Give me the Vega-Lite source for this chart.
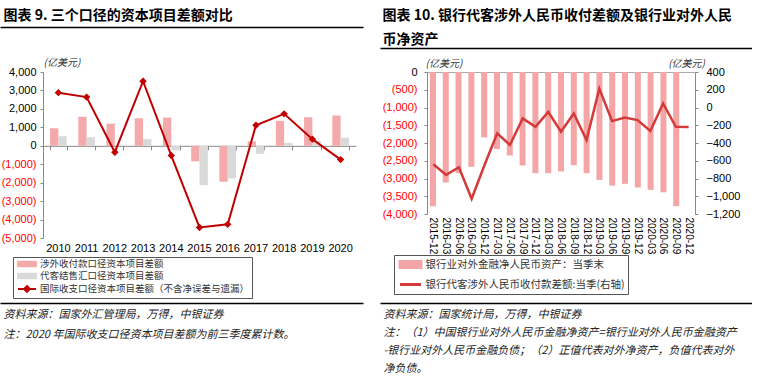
{
  "$schema": "https://vega.github.io/schema/vega-lite/v6.json",
  "background": "white",
  "padding": {"left": 0, "top": 8, "right": 0, "bottom": 0},
  "config": {
    "font": "Liberation Sans",
    "view": {"stroke": null},
    "axis": {"labelFont": "Liberation Sans", "labelFontSize": 11, "labelColor": "#000", "grid": false, "domainColor": "#888", "tickColor": "#888", "labelOverlap": false, "labelFlush": false}
  },
  "spacing": 17,
  "resolve": {"scale": {"x": "independent", "y": "independent", "color": "independent"}, "legend": {"color": "independent"}},
  "datasets": {
    "leftBars": [
      {"year": "2010", "series": "涉外收付款口径资本项目差额", "value": 950},
      {"year": "2011", "series": "涉外收付款口径资本项目差额", "value": 1570},
      {"year": "2012", "series": "涉外收付款口径资本项目差额", "value": 1200},
      {"year": "2013", "series": "涉外收付款口径资本项目差额", "value": 1490},
      {"year": "2014", "series": "涉外收付款口径资本项目差额", "value": 1530},
      {"year": "2015", "series": "涉外收付款口径资本项目差额", "value": -840},
      {"year": "2016", "series": "涉外收付款口径资本项目差额", "value": -1950},
      {"year": "2017", "series": "涉外收付款口径资本项目差额", "value": 240},
      {"year": "2018", "series": "涉外收付款口径资本项目差额", "value": 1350},
      {"year": "2019", "series": "涉外收付款口径资本项目差额", "value": 1550},
      {"year": "2020", "series": "涉外收付款口径资本项目差额", "value": 1640},
      {"year": "2010", "series": "代客结售汇口径资本项目差额", "value": 510},
      {"year": "2011", "series": "代客结售汇口径资本项目差额", "value": 470},
      {"year": "2012", "series": "代客结售汇口径资本项目差额", "value": 20},
      {"year": "2013", "series": "代客结售汇口径资本项目差额", "value": 360},
      {"year": "2014", "series": "代客结售汇口径资本项目差额", "value": -250},
      {"year": "2015", "series": "代客结售汇口径资本项目差额", "value": -2130},
      {"year": "2016", "series": "代客结售汇口径资本项目差额", "value": -1770},
      {"year": "2017", "series": "代客结售汇口径资本项目差额", "value": -440},
      {"year": "2018", "series": "代客结售汇口径资本项目差额", "value": 160},
      {"year": "2019", "series": "代客结售汇口径资本项目差额", "value": 270},
      {"year": "2020", "series": "代客结售汇口径资本项目差额", "value": 440}
    ],
    "leftLine": [
      {"year": "2010", "value": 2880},
      {"year": "2011", "value": 2640},
      {"year": "2012", "value": -350},
      {"year": "2013", "value": 3500},
      {"year": "2014", "value": -530},
      {"year": "2015", "value": -4430},
      {"year": "2016", "value": -4260},
      {"year": "2017", "value": 1110},
      {"year": "2018", "value": 1730},
      {"year": "2019", "value": 360},
      {"year": "2020", "value": -750}
    ],
    "right": [
      {"q": "2015-12", "assets": -3780, "flow": -639},
      {"q": "2016-03", "assets": -3110, "flow": -759},
      {"q": "2016-06", "assets": -2850, "flow": -673},
      {"q": "2016-09", "assets": -2670, "flow": -1028},
      {"q": "2016-12", "assets": -1840, "flow": -650},
      {"q": "2017-03", "assets": -2170, "flow": -292},
      {"q": "2017-06", "assets": -2355, "flow": -422},
      {"q": "2017-09", "assets": -2635, "flow": -123},
      {"q": "2017-12", "assets": -2850, "flow": -217},
      {"q": "2018-03", "assets": -2850, "flow": -49},
      {"q": "2018-06", "assets": -2800, "flow": -273},
      {"q": "2018-09", "assets": -2625, "flow": -67},
      {"q": "2018-12", "assets": -2850, "flow": -366},
      {"q": "2019-03", "assets": -3040, "flow": 213},
      {"q": "2019-06", "assets": -3200, "flow": -153},
      {"q": "2019-09", "assets": -3150, "flow": -112},
      {"q": "2019-12", "assets": -3250, "flow": -142},
      {"q": "2020-03", "assets": -3320, "flow": -265},
      {"q": "2020-06", "assets": -3390, "flow": 45},
      {"q": "2020-09", "assets": -3785, "flow": -217},
      {"q": "2020-12", "assets": null, "flow": -220}
    ]
  },
  "hconcat": [
    {
      "width": 356,
      "height": 166,
      "resolve": {"scale": {"x": "independent"}, "axis": {"x": "independent"}},
      "layer": [
        {
          "data": {"name": "leftBars"},
          "mark": {"type": "bar"},
          "encoding": {
            "x": {"field": "year", "type": "nominal", "scale": {"range": [43, 356], "paddingInner": 0.41, "paddingOuter": 0.25},
              "axis": {"orient": "bottom", "title": null, "domain": false, "ticks": false, "labelAngle": 0, "labelPadding": 4}},
            "xOffset": {"field": "series", "type": "nominal", "sort": ["涉外收付款口径资本项目差额", "代客结售汇口径资本项目差额"], "scale": {"paddingInner": 0, "paddingOuter": 0}},
            "y": {"field": "value", "type": "quantitative", "scale": {"domain": [-5000, 4000], "nice": false},
              "axis": {"offset": -43, "values": [-5000, -4000, -3000, -2000, -1000, 0, 1000, 2000, 3000, 4000], "tickCount": 20, "labelOverlap": false, "labelFlush": false,
                "labelExpr": "datum.value < 0 ? '(' + format(-datum.value, ',') + ')' : format(datum.value, ',')",
                "labelColor": {"condition": {"test": "datum.value < 0", "value": "#FF0000"}, "value": "#000"},
                "tickSize": 3, "labelPadding": 4,
                "title": "(亿美元)", "titleAngle": 0, "titleAlign": "left", "titleBaseline": "middle", "titleX": 0, "titleY": -10,
                "titleFont": "Noto Sans CJK SC", "titleFontSize": 10, "titleFontWeight": "normal", "titleFontStyle": "italic", "titleColor": "#333"}},
            "color": {"field": "series", "type": "nominal",
              "scale": {"domain": ["涉外收付款口径资本项目差额", "代客结售汇口径资本项目差额", "国际收支口径资本项目差额（不含净误差与遗漏）"], "range": ["#F4AAAA", "#D9D9D9", "#C00000"]},
              "legend": {"orient": "none", "legendX": 13, "legendY": 185, "direction": "vertical",
                "title": "\u3000\u3000\u3000\u3000\u3000", "titleOrient": "left", "titleFontSize": 10, "titleFont": "Noto Sans CJK SC", "titlePadding": 7,
                "strokeColor": "#555", "padding": 2, "symbolOffset": 0, "labelOffset": 8, "rowPadding": 0, "labelLimit": 1000,
                "symbolSize": 64, "labelFont": "Noto Sans CJK SC", "labelFontSize": 9.5, "labelColor": "#333",
                "labelExpr": "indexof(datum.label,'国际')>=0 ? datum.label + '\u3000\u3000\u3000\u3000\u3000\u2002' : datum.label",
                "encode": {"symbols": {"update": {
                  "shape": {"signal": "indexof(datum.value,'国际')>=0 ? 'M-2.25,0H2.25M0,-0.75L0.75,0L0,0.75L-0.75,0Z' : 'M-2.25,-0.6H2.25V0.6H-2.25Z'"},
                  "fill": {"signal": "indexof(datum.value,'国际')>=0 ? '#C00000' : (indexof(datum.value,'代客')>=0 ? '#D9D9D9' : '#F4AAAA')"},
                  "stroke": {"signal": "indexof(datum.value,'国际')>=0 ? '#C00000' : 'transparent'"},
                  "strokeWidth": {"value": 1.8},
                  "opacity": {"value": 1}
                }}}}}
          }
        },
        {
          "data": {"name": "leftLine"},
          "mark": {"type": "line", "strokeWidth": 2, "point": {"shape": "diamond", "filled": true, "size": 55}},
          "encoding": {
            "x": {"field": "year", "type": "nominal", "scale": {"range": [43, 356], "paddingInner": 0.41, "paddingOuter": 0.25},
              "axis": {"orient": "bottom", "offset": -92.2, "labels": false, "title": null, "ticks": true, "tickBand": "extent", "tickSize": 4, "domain": true}},
            "y": {"field": "value", "type": "quantitative"},
            "color": {"datum": "国际收支口径资本项目差额（不含净误差与遗漏）"}
          }
        },
        {
          "data": {"name": "leftLine"},
          "mark": {"type": "point", "opacity": 0},
          "encoding": {
            "x": {"field": "year", "type": "nominal", "scale": {"range": [0, 363]},
              "axis": {"orient": "top", "offset": 45, "domain": true, "domainColor": "#000", "domainWidth": 1.5, "ticks": true, "tickSize": 0, "labels": false, "grid": false,
                "title": "图表 9. 三个口径的资本项目差额对比", "titleX": 3, "titleY": -19, "titleAlign": "left", "titleAnchor": "start", "titleBaseline": "top",
                "titleFont": "Noto Sans CJK SC", "titleFontSize": 14, "titleFontWeight": "bold", "titleColor": "#000"}},
            "y": {"field": "value", "type": "quantitative"}
          }
        },
        {
          "data": {"name": "leftLine"},
          "mark": {"type": "point", "opacity": 0},
          "encoding": {
            "x": {"field": "year", "type": "nominal", "scale": {"range": [0, 363]},
              "axis": {"orient": "bottom", "offset": 65, "domain": true, "domainColor": "#000", "domainWidth": 1.5, "ticks": true, "tickSize": 0, "labels": false, "grid": false,
                "title": ["资料来源：国家外汇管理局，万得，中银证券", "注：2020 年国际收支口径资本项目差额为前三季度累计数。"], "titleLineHeight": 20,
                "titleX": 3, "titleY": 5, "titleAlign": "left", "titleAnchor": "start", "titleBaseline": "top",
                "titleFont": "Noto Sans CJK SC", "titleFontSize": 11, "titleFontWeight": "normal", "titleFontStyle": "italic", "titleColor": "#222"}},
            "y": {"field": "value", "type": "quantitative"}
          }
        }
      ]
    },
    {
      "width": 315,
      "height": 142,
      "data": {"name": "right"},
      "resolve": {"scale": {"x": "independent", "y": "independent"}, "axis": {"x": "independent", "y": "independent"}},
      "layer": [
        {
          "mark": {"type": "bar"},
          "encoding": {
            "x": {"field": "q", "type": "nominal",
              "scale": {"domain": ["2015-12", "2016-03", "2016-06", "2016-09", "2016-12", "2017-03", "2017-06", "2017-09", "2017-12", "2018-03", "2018-06", "2018-09", "2018-12", "2019-03", "2019-06", "2019-09", "2019-12", "2020-03", "2020-06", "2020-09", "2020-12"],
                "range": [47, 315], "paddingInner": 0.53, "paddingOuter": 0.23},
              "axis": {"orient": "bottom", "title": null, "domain": false, "ticks": false, "labelAngle": 90, "labelAlign": "left", "labelBaseline": "middle", "labelPadding": 3, "labelFontSize": 10}},
            "y": {"field": "assets", "type": "quantitative", "scale": {"domain": [-4000, 0], "nice": false},
              "axis": {"orient": "left", "offset": -47, "values": [-4000, -3500, -3000, -2500, -2000, -1500, -1000, -500, 0], "tickCount": 20, "labelOverlap": false, "labelFlush": false,
                "labelExpr": "datum.value < 0 ? '(' + format(-datum.value, ',') + ')' : format(datum.value, ',')",
                "labelColor": {"condition": {"test": "datum.value < 0", "value": "#FF0000"}, "value": "#000"},
                "tickSize": 3, "labelPadding": 7,
                "title": "(亿美元)", "titleAngle": 0, "titleAlign": "left", "titleBaseline": "middle", "titleX": -2, "titleY": -9,
                "titleFont": "Noto Sans CJK SC", "titleFontSize": 10, "titleFontWeight": "normal", "titleFontStyle": "italic", "titleColor": "#333"}},
            "color": {"datum": "银行业对外金融净人民币资产：当季末",
              "scale": {"domain": ["银行业对外金融净人民币资产：当季末", "银行代客涉外人民币收付款差额:当季(右轴)"], "range": ["#F4A6A6", "#D43A3A"]},
              "legend": {"orient": "none", "legendX": 14, "legendY": 183, "direction": "vertical",
                "title": "\u3000\u3000\u3000\u3000\u3000", "titleOrient": "left", "titleFontSize": 10.5, "titleFont": "Noto Sans CJK SC", "titlePadding": 7,
                "strokeColor": "#555", "padding": 3, "symbolOffset": 0, "labelOffset": 8.5, "rowPadding": 4, "labelLimit": 1000,
                "symbolSize": 100, "labelFont": "Noto Sans CJK SC", "labelFontSize": 10.5, "labelColor": "#333",
                "labelExpr": "indexof(datum.label,'右轴')>=0 ? datum.label + '\u3000\u3000\u3000\u3000\u3000' : datum.label",
                "encode": {"symbols": {"update": {
                  "shape": {"signal": "indexof(datum.value,'资产')>=0 ? 'M-2.1,-0.6H2.1V0.6H-2.1Z' : 'M-2.1,0H2.1'"},
                  "fill": {"signal": "indexof(datum.value,'资产')>=0 ? '#F4A6A6' : 'transparent'"},
                  "stroke": {"signal": "indexof(datum.value,'资产')>=0 ? 'transparent' : '#D43A3A'"},
                  "strokeWidth": {"value": 3},
                  "opacity": {"value": 1}
                }}}}}
          }
        },
        {
          "mark": {"type": "line", "strokeWidth": 2.5},
          "encoding": {
            "x": {"field": "q", "type": "nominal",
              "scale": {"domain": ["2015-12", "2016-03", "2016-06", "2016-09", "2016-12", "2017-03", "2017-06", "2017-09", "2017-12", "2018-03", "2018-06", "2018-09", "2018-12", "2019-03", "2019-06", "2019-09", "2019-12", "2020-03", "2020-06", "2020-09", "2020-12"],
                "range": [47, 315], "paddingInner": 0.53, "paddingOuter": 0.23},
              "axis": {"orient": "top", "labels": false, "ticks": true, "tickSize": 0, "title": null, "domain": true, "domainColor": "#AAA"}},
            "y": {"field": "flow", "type": "quantitative", "scale": {"domain": [-1200, 400], "nice": false},
              "axis": {"orient": "right", "values": [-1200, -1000, -800, -600, -400, -200, 0, 200, 400], "tickCount": 20, "labelExpr": "format(datum.value, ',')", "labelOverlap": false, "labelFlush": false,
                "tickSize": 3, "labelPadding": 8,
                "title": "(亿美元)", "titleAngle": 0, "titleAlign": "center", "titleBaseline": "middle", "titleX": -9, "titleY": -9,
                "titleFont": "Noto Sans CJK SC", "titleFontSize": 10, "titleFontWeight": "normal", "titleFontStyle": "italic", "titleColor": "#333"}},
            "color": {"datum": "银行代客涉外人民币收付款差额:当季(右轴)"}
          }
        },
        {
          "mark": {"type": "point", "opacity": 0},
          "encoding": {
            "x": {"field": "q", "type": "nominal", "scale": {"range": [0, 372]},
              "axis": {"orient": "top", "offset": 24, "domain": true, "domainColor": "#000", "domainWidth": 1.5, "ticks": true, "tickSize": 0, "labels": false, "grid": false,
                "title": ["图表 10. 银行代客涉外人民币收付差额及银行业对外人民", "币净资产"], "titleLineHeight": 24, "titleX": 2, "titleY": -40, "titleAlign": "left", "titleAnchor": "start", "titleBaseline": "top",
                "titleFont": "Noto Sans CJK SC", "titleFontSize": 14, "titleFontWeight": "bold", "titleColor": "#000"}},
            "y": {"field": "flow", "type": "quantitative", "axis": null}
          }
        },
        {
          "mark": {"type": "point", "opacity": 0},
          "encoding": {
            "x": {"field": "q", "type": "nominal", "scale": {"range": [0, 372]},
              "axis": {"orient": "bottom", "offset": 89, "domain": true, "domainColor": "#000", "domainWidth": 1.5, "ticks": true, "tickSize": 0, "labels": false, "grid": false,
                "title": ["资料来源：国家统计局，万得，中银证券", "注：（1）中国银行业对外人民币金融净资产=银行业对外人民币金融资产", "-银行业对外人民币金融负债；（2）正值代表对外净资产，负值代表对外", "净负债。"], "titleLineHeight": 18,
                "titleX": 3, "titleY": 5, "titleAlign": "left", "titleAnchor": "start", "titleBaseline": "top",
                "titleFont": "Noto Sans CJK SC", "titleFontSize": 11, "titleFontWeight": "normal", "titleFontStyle": "italic", "titleColor": "#222"}},
            "y": {"field": "flow", "type": "quantitative", "axis": null}
          }
        }
      ]
    }
  ]
}
